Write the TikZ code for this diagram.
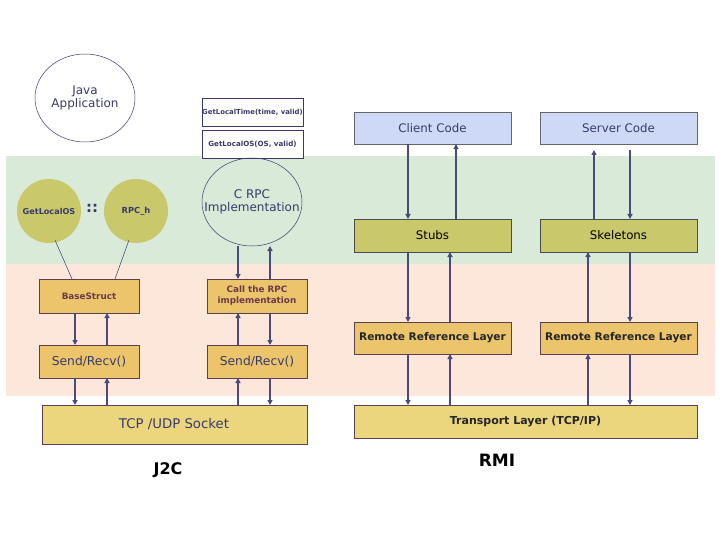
\documentclass[tikz,border=0pt]{standalone}
\usepackage{fontspec}
\setmainfont{DejaVu Sans}
\usetikzlibrary{arrows.meta}
\definecolor{bandgreen}{HTML}{D9EAD8}
\definecolor{bandpink}{HTML}{FDE6DA}
\definecolor{orangebox}{HTML}{EBC46C}
\definecolor{yellowbox}{HTML}{EBD67E}
\definecolor{olivebox}{HTML}{C9C86A}
\definecolor{bluebox}{HTML}{CDD9F6}
\definecolor{navytext}{HTML}{3A3A6A}
\definecolor{browntext}{HTML}{6A3A4A}
\definecolor{arrowcol}{HTML}{4A4A7A}
\definecolor{edgecol}{HTML}{5A4050}
\tikzset{
  every node/.style={inner sep=0pt, outer sep=0pt},
  boxo/.style={draw=edgecol, fill=orangebox, line width=0.7pt},
  boxy/.style={draw=edgecol, fill=yellowbox, line width=0.7pt},
  boxg/.style={draw=black!70, fill=olivebox, line width=0.7pt},
  boxb/.style={draw=black!60, fill=bluebox, line width=0.5pt},
  boxw/.style={draw=navytext, fill=white, line width=0.6pt},
  ell/.style={draw=navytext, line width=0.5pt},
  arr/.style={draw=arrowcol, line width=1.3pt, -{Triangle[length=5pt,width=5pt]}},
  thin/.style={draw=navytext, line width=0.5pt},
}
\begin{document}
\begin{tikzpicture}[x=1pt,y=-1pt]
\useasboundingbox (0,0) rectangle (720,540);
\fill[white] (0,0) rectangle (720,540);
% bands
\fill[bandgreen] (6,156) rectangle (715,264);
\fill[bandpink] (6,264) rectangle (715,396);

% ===== J2C side =====
\draw[ell] (85,98) ellipse [x radius=50, y radius=44];
\node[text=navytext, font=\fontsize{12}{13.5}\selectfont, align=center] (java) at (85,98) {Java\\Application};

\draw[boxw] (202,98) rectangle (303,126);
\node[text=navytext, font=\bfseries\fontsize{6.9}{8}\selectfont] (glt) at (252.5,112) {GetLocalTime(time, valid)};
\draw[boxw] (202,130) rectangle (303,158);
\node[text=navytext, font=\bfseries\fontsize{7.1}{8}\selectfont] (glo) at (252.5,144) {GetLocalOS(OS, valid)};

\draw[ell] (252,202) ellipse [x radius=50, y radius=44];
\node[text=navytext, font=\fontsize{12}{13.5}\selectfont, align=center] (crpc) at (252,202) {C RPC\\Implementation};

\fill[olivebox] (49,211) circle (32);
\node[text=navytext, font=\bfseries\fontsize{8.1}{9}\selectfont] (gos) at (49,211) {GetLocalOS};
\fill[olivebox] (136,211) circle (32);
\node[text=navytext, font=\bfseries\fontsize{8.3}{9}\selectfont] (rpch) at (136,211) {RPC\_h};
\node[text=navytext, font=\bfseries\fontsize{15}{15}\selectfont] (colons) at (92,208) {::};

\draw[boxo] (39,279) rectangle (139,313);
\node[text=browntext, font=\bfseries\fontsize{8.8}{10}\selectfont] (bs) at (89,296) {BaseStruct};
\draw[boxo] (207,279) rectangle (307,313);
\node[text=browntext, font=\bfseries\fontsize{8.8}{11}\selectfont, align=center] (call) at (257,296) {Call the RPC\\implementation};

\draw[boxo] (39,345) rectangle (139,378);
\node[text=navytext, font=\fontsize{12.3}{14}\selectfont] (sr1) at (89,361.5) {Send/Recv()};
\draw[boxo] (207,345) rectangle (307,378);
\node[text=navytext, font=\fontsize{12.3}{14}\selectfont] (sr2) at (257,361.5) {Send/Recv()};

\draw[boxy] (42,405) rectangle (307,444);
\node[text=navytext, font=\fontsize{13.3}{15}\selectfont] (tcp) at (174,424.5) {TCP /UDP Socket};

\node[font=\bfseries\fontsize{16}{18}\selectfont] (j2c) at (168,470) {J2C};

% connector lines from circles to BaseStruct
\coordinate (bsl) at (72,279);
\coordinate (bsr) at (115,279);
\draw[thin] (55,240) -- (bsl);
\draw[thin] (129,240) -- (bsr);

% left arrows
\draw[arr] (75,313) -- (75,345);
\draw[arr] (107,345) -- (107,313);
\draw[arr] (75,378) -- (75,405);
\draw[arr] (107,405) -- (107,378);
% right (C RPC) arrows
\draw[arr] (238,246) -- (238,279);
\draw[arr] (270,279) -- (270,246);
\draw[arr] (238,345) -- (238,313);
\draw[arr] (270,313) -- (270,345);
\draw[arr] (238,405) -- (238,378);
\draw[arr] (270,378) -- (270,405);

% ===== RMI side =====
\draw[boxb] (354,112) rectangle (511,144);
\node[text=navytext, font=\fontsize{11.8}{13}\selectfont] (cc) at (432.5,128) {Client Code};
\draw[boxb] (540,112) rectangle (697,144);
\node[text=navytext, font=\fontsize{11.8}{13}\selectfont] (sc) at (618.5,128) {Server Code};

\draw[boxg] (354,219) rectangle (511,252);
\node[font=\fontsize{11.8}{13}\selectfont] (stubs) at (432.5,235.5) {Stubs};
\draw[boxg] (540,219) rectangle (697,252);
\node[font=\fontsize{11.8}{13}\selectfont] (skel) at (618.5,235.5) {Skeletons};

\draw[boxo] (354,322) rectangle (511,354);
\node[text=black!85, font=\bfseries\fontsize{10.6}{12}\selectfont] (rrl1) at (432.5,338) {Remote Reference Layer};
\draw[boxo] (540,322) rectangle (697,354);
\node[text=black!85, font=\bfseries\fontsize{10.6}{12}\selectfont] (rrl2) at (618.5,338) {Remote Reference Layer};

\draw[boxy] (354,405) rectangle (697,438);
\node[text=black!85, font=\bfseries\fontsize{11}{12}\selectfont] (tl) at (525.5,421.5) {Transport Layer (TCP/IP)};

\node[font=\bfseries\fontsize{17}{19}\selectfont] (rmi) at (497,460) {RMI};

% client arrows
\draw[arr] (408,144) -- (408,219);
\draw[arr] (456,219) -- (456,144);
\draw[arr] (408,252) -- (408,322);
\draw[arr] (450,322) -- (450,252);
\draw[arr] (408,354) -- (408,405);
\draw[arr] (450,405) -- (450,354);
% server arrows
\draw[arr] (594,219) -- (594,150);
\draw[arr] (630,150) -- (630,219);
\draw[arr] (588,322) -- (588,252);
\draw[arr] (630,252) -- (630,322);
\draw[arr] (588,405) -- (588,354);
\draw[arr] (630,354) -- (630,405);
\end{tikzpicture}
\end{document}
